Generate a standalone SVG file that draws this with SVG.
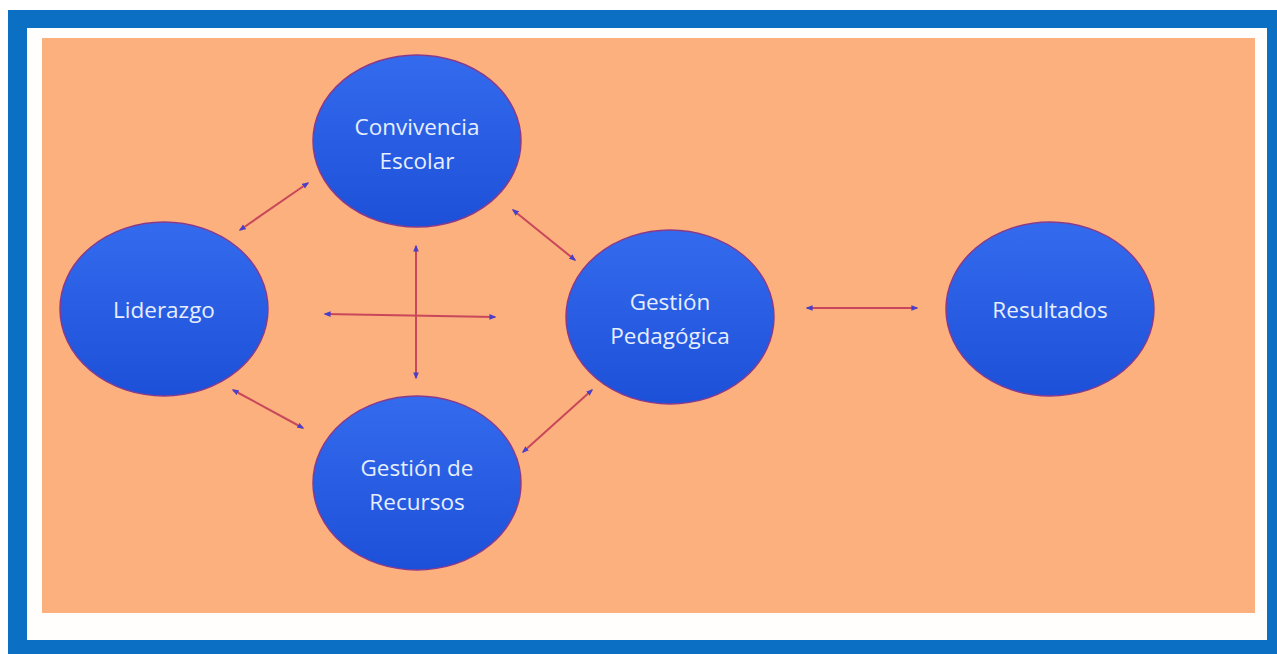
<svg xmlns="http://www.w3.org/2000/svg" width="1277" height="654" viewBox="0 0 1277 654">
<defs>
<linearGradient id="g" x1="0" y1="0" x2="0" y2="1">
<stop offset="0" stop-color="#346bee"/>
<stop offset="1" stop-color="#1d50d8"/>
</linearGradient>
<marker id="a" viewBox="0 0 10 10" refX="8" refY="5" markerWidth="7" markerHeight="7" orient="auto-start-reverse" markerUnits="userSpaceOnUse">
<path d="M0,1 L10,5 L0,9 Z" fill="#4b3fc8"/>
</marker>
<style>
.n ellipse{fill:url(#g);stroke:#8a3a8a;stroke-width:1.5}
.n text{font-family:"Open Sans","Noto Sans","Liberation Sans",sans-serif;font-size:22.5px;fill:#e6eeff;text-anchor:middle}
.c line{stroke:#c8475a;stroke-width:2;marker-start:url(#a);marker-end:url(#a)}
</style>
</defs>
<rect x="0" y="0" width="1277" height="654" fill="#ffffff"/>
<rect x="8" y="10" width="1269" height="644" fill="#0b6fc4"/>
<rect x="27" y="28" width="1240" height="612" fill="#fffefc"/>
<rect x="42" y="38" width="1213" height="575" fill="#fbb07e"/>
<g class="c">
<line x1="240" y1="230" x2="308" y2="183"/>
<line x1="513" y1="210" x2="575" y2="260"/>
<line x1="233" y1="390" x2="303" y2="428"/>
<line x1="523" y1="452" x2="592" y2="390"/>
<line x1="416" y1="246" x2="416" y2="378"/>
<line x1="325" y1="314" x2="495" y2="317"/>
<line x1="807" y1="308" x2="917" y2="308"/>
</g>
<g id="convivencia" class="n"><ellipse cx="417" cy="141" rx="104" ry="86"/><text x="417" y="135">Convivencia</text><text x="417" y="169">Escolar</text></g>
<g id="liderazgo" class="n"><ellipse cx="164" cy="309" rx="104" ry="87"/><text x="164" y="318">Liderazgo</text></g>
<g id="recursos" class="n"><ellipse cx="417" cy="483" rx="104" ry="87"/><text x="417" y="476">Gestión de</text><text x="417" y="510">Recursos</text></g>
<g id="pedagogica" class="n"><ellipse cx="670" cy="317" rx="104" ry="87"/><text x="670" y="310">Gestión</text><text x="670" y="344">Pedagógica</text></g>
<g id="resultados" class="n"><ellipse cx="1050" cy="309" rx="104" ry="87"/><text x="1050" y="318">Resultados</text></g>
</svg>
